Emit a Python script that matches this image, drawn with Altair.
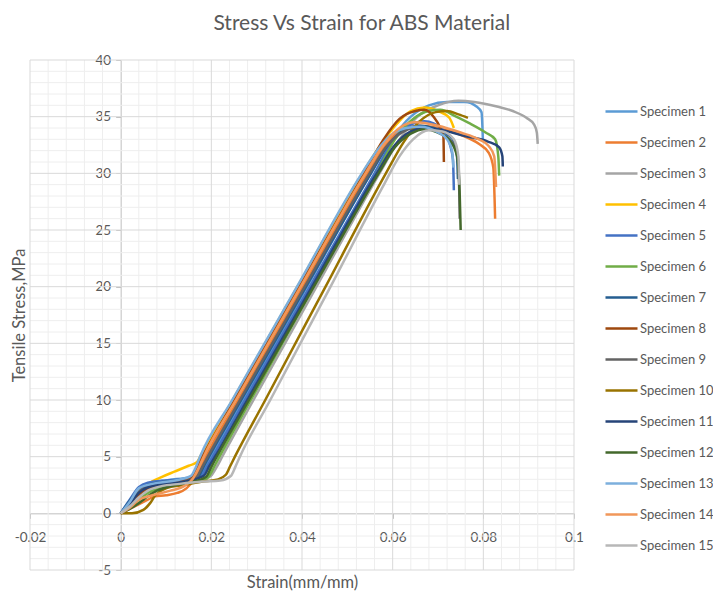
import altair as alt
import pandas as pd

FONT = "Lato"
TXT = "#595959"

specimen_names = ["Specimen 1", "Specimen 2", "Specimen 3", "Specimen 4", "Specimen 5",
                  "Specimen 6", "Specimen 7", "Specimen 8", "Specimen 9", "Specimen 10",
                  "Specimen 11", "Specimen 12", "Specimen 13", "Specimen 14", "Specimen 15"]
specimen_colors = ["#5B9BD5", "#ED7D31", "#A5A5A5", "#FFC000", "#4472C4",
                   "#70AD47", "#255E91", "#9E480E", "#636363", "#997300",
                   "#264478", "#43682B", "#7CAFDD", "#F1975A", "#B7B7B7"]

s1_strain = [0, 0.002, 0.004, 0.006, 0.010, 0.014, 0.0175, 0.0188, 0.0200, 0.0270, 0.0411, 0.0552, 0.0598, 0.0640, 0.0680, 0.0720, 0.0760, 0.0785, 0.0796, 0.0799]
s1_stress = [0, 1.0, 2.1, 2.6, 2.9, 3.1, 3.3, 4.1, 5.0, 10, 20, 30, 33.0, 35.0, 36.0, 36.3, 36.3, 35.9, 35.4, 33.0]

s2_strain = [0, 0.003, 0.006, 0.0075, 0.010, 0.0125, 0.0145, 0.0162, 0.0175, 0.0188, 0.0259, 0.0402, 0.0545, 0.0585, 0.0620, 0.0660, 0.0700, 0.0750, 0.0790, 0.0812, 0.0822, 0.0826]
s2_stress = [0, 0.6, 1.2, 1.5, 1.6, 1.8, 2.2, 3.0, 3.9, 5.0, 10, 20, 30, 32.5, 33.8, 34.2, 34.0, 33.4, 32.6, 31.8, 30.5, 26.0]

s3_strain = [0, 0.002, 0.004, 0.006, 0.010, 0.014, 0.018, 0.0199, 0.0212, 0.0224, 0.0293, 0.0432, 0.0571, 0.0615, 0.0655, 0.0700, 0.0745, 0.0780, 0.0830, 0.0865, 0.0895, 0.0912, 0.0918, 0.0920]
s3_stress = [0, 0.7, 1.5, 2.1, 2.5, 2.7, 2.9, 3.3, 4.1, 5.0, 10, 20, 30, 33.0, 35.0, 36.0, 36.4, 36.3, 35.9, 35.5, 34.9, 34.3, 33.6, 32.6]

s4_strain = [0, 0.002, 0.004, 0.006, 0.009, 0.012, 0.015, 0.0168, 0.0178, 0.0250, 0.0390, 0.0530, 0.0570, 0.0610, 0.0640, 0.0670, 0.0700, 0.0725, 0.0735]
s4_stress = [0, 1.0, 2.0, 2.6, 3.2, 3.7, 4.2, 4.5, 5.2, 10.2, 20.0, 29.8, 32.3, 34.4, 35.5, 35.8, 35.5, 34.9, 34.0]

s5_strain = [0, 0.002, 0.004, 0.006, 0.010, 0.014, 0.0178, 0.0190, 0.0203, 0.0274, 0.0417, 0.0560, 0.0600, 0.0635, 0.0670, 0.0690, 0.0715, 0.0728, 0.0733, 0.0735]
s5_stress = [0, 1.2, 2.3, 2.7, 2.9, 3.0, 3.3, 4.1, 5.0, 10, 20, 30, 32.8, 34.2, 34.6, 34.4, 33.6, 32.3, 31.2, 28.5]

s6_strain = [0, 0.002, 0.004, 0.006, 0.009, 0.013, 0.017, 0.0193, 0.0206, 0.0218, 0.0287, 0.0426, 0.0565, 0.0605, 0.0645, 0.0680, 0.0705, 0.0740, 0.0770, 0.0805, 0.0826, 0.0833, 0.0835]
s6_stress = [0, 0.6, 1.2, 1.8, 2.3, 2.6, 2.8, 3.2, 4.1, 5.0, 10, 20, 30, 33.0, 34.8, 35.5, 35.6, 35.0, 34.4, 33.6, 33.0, 31.5, 29.8]

s7_strain = [0, 0.002, 0.004, 0.006, 0.010, 0.014, 0.017, 0.0183, 0.0195, 0.0266, 0.0409, 0.0552, 0.0590, 0.0625, 0.0660, 0.0690, 0.0720, 0.0738, 0.0742, 0.0744]
s7_stress = [0, 1.1, 2.1, 2.5, 2.8, 3.0, 3.2, 4.1, 5.0, 10, 20, 30, 32.5, 33.8, 34.2, 34.0, 33.5, 32.6, 31.5, 29.5]

s8_strain = [0, 0.002, 0.004, 0.006, 0.010, 0.0145, 0.0158, 0.0168, 0.0180, 0.0251, 0.0394, 0.0537, 0.0580, 0.0615, 0.0650, 0.0670, 0.0690, 0.0705, 0.0712, 0.0713]
s8_stress = [0, 0.6, 1.6, 2.2, 2.6, 2.9, 3.3, 4.1, 5.0, 10, 20, 30, 33.0, 34.8, 35.5, 35.6, 35.0, 34.0, 33.2, 31.0]

s9_strain = [0, 0.002, 0.004, 0.006, 0.010, 0.014, 0.0167, 0.0180, 0.0192, 0.0263, 0.0406, 0.0549, 0.0585, 0.0620, 0.0650, 0.0680, 0.0710, 0.0735, 0.0745, 0.0748]
s9_stress = [0, 0.9, 2.0, 2.4, 2.6, 2.8, 3.2, 4.1, 5.0, 10, 20, 30, 32.3, 33.6, 34.0, 33.9, 33.4, 32.5, 31.0, 26.0]

s10_strain = [0, 0.0025, 0.005, 0.0065, 0.0075, 0.010, 0.014, 0.018, 0.0215, 0.0232, 0.0242, 0.0252, 0.0319, 0.0452, 0.0585, 0.0625, 0.0660, 0.0695, 0.0720, 0.0745, 0.0766]
s10_stress = [0, 0.0, 0.3, 0.9, 1.5, 2.2, 2.5, 2.8, 3.0, 3.4, 4.2, 5.0, 10, 20, 30, 32.8, 34.6, 35.4, 35.5, 35.2, 34.9]

s11_strain = [0, 0.002, 0.004, 0.006, 0.010, 0.014, 0.0183, 0.0196, 0.0208, 0.0279, 0.0422, 0.0565, 0.0605, 0.0640, 0.0670, 0.0710, 0.0760, 0.0810, 0.0835, 0.0842, 0.0843]
s11_stress = [0, 0.8, 1.8, 2.3, 2.6, 2.8, 3.3, 4.2, 5.0, 10, 20, 30, 32.5, 33.7, 34.0, 33.8, 33.3, 32.8, 32.3, 31.5, 30.6]

s12_strain = [0, 0.002, 0.004, 0.006, 0.008, 0.011, 0.015, 0.0188, 0.0200, 0.0212, 0.0283, 0.0426, 0.0569, 0.0605, 0.0640, 0.0670, 0.0700, 0.0728, 0.0742, 0.0748, 0.0750]
s12_stress = [0, 0.4, 0.9, 1.5, 2.0, 2.4, 2.7, 3.2, 4.1, 5.0, 10, 20, 30, 32.3, 33.5, 33.9, 33.6, 32.8, 31.5, 28.0, 25.0]

s13_strain = [0, 0.002, 0.004, 0.007, 0.012, 0.0155, 0.0165, 0.0175, 0.0246, 0.0389, 0.0532, 0.0565, 0.0600, 0.0630, 0.0660, 0.0700, 0.0720, 0.0731, 0.0734]
s13_stress = [0, 1.0, 2.2, 2.6, 2.9, 3.3, 4.0, 5.0, 10, 20, 30, 32.0, 33.5, 34.0, 34.1, 33.6, 33.0, 32.0, 30.5]

s14_strain = [0, 0.002, 0.004, 0.007, 0.011, 0.014, 0.016, 0.0172, 0.0183, 0.0254, 0.0397, 0.0540, 0.0580, 0.0615, 0.0650, 0.0700, 0.0750, 0.0790, 0.0812, 0.0824, 0.0828]
s14_stress = [0, 0.5, 1.2, 1.6, 2.0, 2.4, 3.1, 4.0, 5.0, 10, 20, 30, 32.5, 34.0, 34.5, 34.2, 33.6, 33.0, 32.4, 31.5, 28.8]

s15_strain = [0, 0.002, 0.004, 0.006, 0.009, 0.013, 0.018, 0.022, 0.0243, 0.0253, 0.0263, 0.0330, 0.0463, 0.0578, 0.0615, 0.0645, 0.0680, 0.0710, 0.0735, 0.0745, 0.0747]
s15_stress = [0, 0.6, 1.4, 2.0, 2.4, 2.6, 2.8, 2.9, 3.3, 4.1, 5.0, 10, 20, 28.8, 31.5, 33.0, 33.8, 33.7, 33.0, 31.5, 29.0]

strain_lists = [s1_strain, s2_strain, s3_strain, s4_strain, s5_strain, s6_strain, s7_strain, s8_strain,
                s9_strain, s10_strain, s11_strain, s12_strain, s13_strain, s14_strain, s15_strain]
stress_lists = [s1_stress, s2_stress, s3_stress, s4_stress, s5_stress, s6_stress, s7_stress, s8_stress,
                s9_stress, s10_stress, s11_stress, s12_stress, s13_stress, s14_stress, s15_stress]

x_ticks = [-0.02, 0, 0.02, 0.04, 0.06, 0.08, 0.1]
y_ticks = [-5, 0, 5, 10, 15, 20, 25, 30, 35, 40]
x_minor = [round(-0.02 + 0.004 * i, 4) for i in range(31) if i % 5 != 0]
y_minor = [v for v in range(-5, 41) if v % 5 != 0]
x_major_grid = [v for v in x_ticks if v != 0]
y_major_grid = [v for v in y_ticks if v != 0]

rows = []
for name, xs_, ys_ in zip(specimen_names, strain_lists, stress_lists):
    for i, (a, b) in enumerate(zip(xs_, ys_)):
        rows.append({"specimen": name, "strain": a, "stress": b, "idx": i})
df = pd.DataFrame(rows)

W, H = 544, 510
x_scale = alt.Scale(domain=[-0.02, 0.1], nice=False, zero=False)
y_scale = alt.Scale(domain=[-5, 40], nice=False, zero=False)

x_axis = alt.Axis(values=x_ticks, format=".2~f", labelExpr="replace(datum.label, '\u2212', '-')",
                  orient="bottom", offset=-H * 5 / 45, grid=False,
                  domainColor="#BFBFBF", tickColor="#BFBFBF", tickSize=5, labelPadding=12,
                  labelFont=FONT, labelFontSize=13.5, labelColor=TXT, labelFlush=False, labelOverlap=False,
                  title="Strain(mm/mm)", titleFont=FONT, titleFontSize=16.5, titleFontWeight="normal",
                  titleColor=TXT, titleY=74, titleBaseline="alphabetic")
y_axis = alt.Axis(values=y_ticks, format="d", labelExpr="replace(datum.label, '\u2212', '-')",
                  orient="left", offset=-W * 0.02 / 0.12, grid=False,
                  domainColor="#BFBFBF", tickColor="#BFBFBF", tickSize=5, labelPadding=5,
                  labelFont=FONT, labelFontSize=13.5, labelColor=TXT, labelOverlap=False, labelFlush=False,
                  title="Tensile Stress,MPa", titleFont=FONT, titleFontSize=16.5, titleFontWeight="normal",
                  titleColor=TXT, titleX=-96, titleY=255, titleAngle=270, titleBaseline="alphabetic",
                  titleAlign="center")

minor_v = alt.Chart(pd.DataFrame({"strain": x_minor})).mark_rule(color="#EEEEEE", strokeWidth=1).encode(
    x=alt.X("strain:Q", scale=x_scale, axis=x_axis))
minor_h = alt.Chart(pd.DataFrame({"stress": y_minor})).mark_rule(color="#EEEEEE", strokeWidth=1).encode(
    y=alt.Y("stress:Q", scale=y_scale, axis=y_axis))
major_v = alt.Chart(pd.DataFrame({"strain": x_major_grid})).mark_rule(color="#D9D9D9", strokeWidth=1).encode(
    x=alt.X("strain:Q", scale=x_scale, axis=x_axis))
major_h = alt.Chart(pd.DataFrame({"stress": y_major_grid})).mark_rule(color="#D9D9D9", strokeWidth=1).encode(
    y=alt.Y("stress:Q", scale=y_scale, axis=y_axis))

lines = alt.Chart(df).mark_line(strokeWidth=2.5, interpolate="monotone").encode(
    x=alt.X("strain:Q", scale=x_scale, axis=x_axis),
    y=alt.Y("stress:Q", scale=y_scale, axis=y_axis),
    color=alt.Color("specimen:N",
                    scale=alt.Scale(domain=specimen_names, range=specimen_colors),
                    legend=alt.Legend(title=None, orient="none", legendX=574, legendY=34,
                                      symbolType="stroke", symbolSize=1024, symbolStrokeWidth=2.5,
                                      labelFont=FONT, labelFontSize=13, labelColor=TXT,
                                      rowPadding=6, padding=0, labelOffset=1, labelLimit=200)),
    order=alt.Order("idx:Q"),
)

chart = alt.layer(minor_v, minor_h, major_v, major_h, lines).properties(
    width=W, height=H,
    title=alt.TitleParams("Stress Vs Strain for ABS Material", font=FONT, fontSize=21,
                          fontWeight="normal", color=TXT, anchor="middle", frame="bounds",
                          dx=-1, dy=-15),
    autosize=alt.AutoSizeParams(type="none"),
    padding={"left": 22, "top": 52, "right": 139, "bottom": 22},
).configure_view(stroke=None)

chart.save("out.html", embed_options={"renderer": "svg", "actions": False})
